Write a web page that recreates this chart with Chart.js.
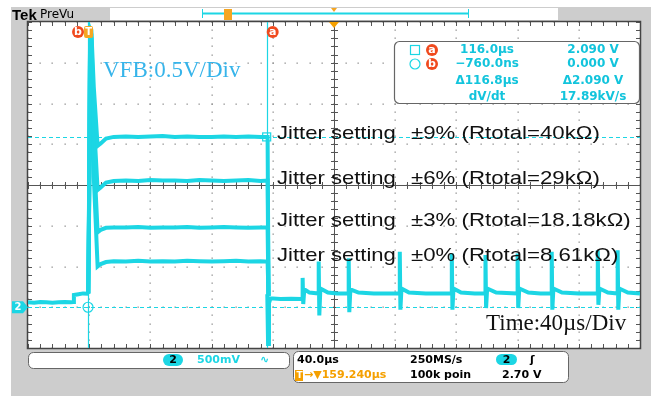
<!DOCTYPE html>
<html><head><meta charset="utf-8">
<script src="https://cdn.jsdelivr.net/npm/chart.js@4/dist/chart.umd.min.js"></script>
<style>html,body{margin:0;padding:0;background:#fff}canvas{display:block}</style>
</head><body>
<canvas id="c" width="651" height="396"></canvas>
<script>
// ---- data (time in µs, voltage in V) ----
const xTicks = [-40, 0, 40, 80, 120, 160, 200, 240, 280, 320, 360];
const yTicks = [-0.5, 0, 0.5, 1, 1.5, 2, 2.5, 3, 3.5];
const preTime = [-40, -36, -32, -28, -24, -20, -16, -12, -10.4, -10, -7, -4, -1, -0.6];
const preVolt = [0.06, 0.055, 0.065, 0.06, 0.055, 0.06, 0.065, 0.06, 0.065, 0.15, 0.16, 0.17, 0.165, 0.17];
const pulseTime = [-0.6, 0, 0.6, 1.4, 3, 5.5, 7.5, 11, 16, 24, 32, 40, 48, 56, 64, 72, 80, 88, 96, 104, 112, 116.6, 117.2];
const jitter9 = [0.17, 1.6, 3.42, 3.40, 2.7, 1.98, 2.01, 2.07, 2.09, 2.095, 2.09, 2.095, 2.10, 2.09, 2.095, 2.09, 2.09, 2.095, 2.09, 2.095, 2.09, 2.09, 0.14];
const jitter6 = [0.17, 1.5, 3.40, 3.35, 2.3, 1.44, 1.47, 1.53, 1.55, 1.555, 1.55, 1.56, 1.555, 1.555, 1.55, 1.56, 1.555, 1.55, 1.555, 1.56, 1.55, 1.555, 0.14];
const jitter3 = [0.17, 1.4, 3.36, 3.30, 1.9, 0.92, 0.95, 0.975, 0.98, 0.98, 0.985, 0.975, 0.98, 0.98, 0.985, 0.975, 0.98, 0.985, 0.98, 0.975, 0.98, 0.98, 0.14];
const jitter0 = [0.17, 1.3, 3.30, 3.20, 1.6, 0.50, 0.53, 0.555, 0.565, 0.56, 0.57, 0.56, 0.565, 0.56, 0.57, 0.565, 0.56, 0.565, 0.57, 0.56, 0.565, 0.56, 0.14];
const tailTime = [116.4, 116.9, 117.5, 118.5, 125, 132, 139.2, 139.5, 139.9, 140.6, 144, 149.7, 150.0, 150.4, 151.1, 156, 162, 169.3, 169.6, 170.0, 170.7, 176, 186, 196, 202.7, 203.0, 203.4, 204.1, 209, 220, 236.7, 237.0, 237.4, 238.1, 243, 252, 258.7, 259.0, 259.4, 260.1, 266, 279.7, 280.0, 280.4, 281.1, 287, 295, 302.0, 302.3, 302.7, 303.4, 309, 320, 332.1, 332.4, 332.8, 333.5, 339, 345.1, 345.4, 345.8, 346.5, 352, 360];
const tailVolt = [0.16, -0.45, 0.05, 0.11, 0.10, 0.105, 0.10, 0.36, 0.04, 0.22, 0.18, 0.17, 0.56, -0.10, 0.23, 0.18, 0.17, 0.17, 0.60, -0.06, 0.22, 0.18, 0.17, 0.17, 0.17, 0.68, -0.03, 0.23, 0.18, 0.17, 0.17, 0.66, -0.03, 0.23, 0.18, 0.17, 0.17, 0.64, -0.01, 0.23, 0.18, 0.17, 0.66, -0.01, 0.23, 0.18, 0.17, 0.17, 0.68, -0.03, 0.23, 0.18, 0.17, 0.17, 0.70, 0.03, 0.23, 0.18, 0.17, 0.70, -0.03, 0.23, 0.18, 0.17];
const cursorTime = [116.0, -0.76];   // a, b
const cursorVolt = [2.090, 0.000];   // a, b
const jitterLabels = ["±9% (Rtotal=40kΩ)", "±6% (Rtotal=29kΩ)", "±3% (Rtotal=18.18kΩ)", "±0% (Rtotal=8.61kΩ)"];
const readout = [["116.0µs", "2.090 V"], ["−760.0ns", "0.000 V"], ["Δ116.8µs", "Δ2.090 V"], ["dV/dt", "17.89kV/s"]];

const CY = '#1cd6e4';
const pts = (t, v) => t.map((x, i) => ({x: x, y: v[i]}));
const ds = (label, t, v) => ({label, data: pts(t, v), borderColor: CY, borderWidth: 4, pointRadius: 0, tension: 0, fill: false});

function rr(ctx, x, y, w, h, r) {
  ctx.beginPath();
  ctx.moveTo(x + r, y); ctx.lineTo(x + w - r, y); ctx.arcTo(x + w, y, x + w, y + r, r);
  ctx.lineTo(x + w, y + h - r); ctx.arcTo(x + w, y + h, x + w - r, y + h, r);
  ctx.lineTo(x + r, y + h); ctx.arcTo(x, y + h, x, y + h - r, r);
  ctx.lineTo(x, y + r); ctx.arcTo(x, y, x + r, y, r); ctx.closePath();
}
function badge(ctx, x, y, txt, col) {
  ctx.fillStyle = col; ctx.beginPath(); ctx.arc(x, y, 6, 0, Math.PI * 2); ctx.fill();
  ctx.fillStyle = '#fff'; ctx.font = 'bold 11px "DejaVu Sans"'; ctx.textAlign = 'center'; ctx.textBaseline = 'middle';
  ctx.fillText(txt, x, y + 0.5);
}

const scopePlugin = {
  id: 'scope',
  beforeDraw(chart) {
    const ctx = chart.ctx, a = chart.chartArea;
    ctx.save();
    ctx.fillStyle = '#fff'; ctx.fillRect(0, 0, 651, 396);
    ctx.fillStyle = '#cdcdcd'; ctx.fillRect(11, 7, 640, 389);
    ctx.fillStyle = '#fff'; ctx.fillRect(a.left, a.top, a.right - a.left, a.bottom - a.top);
    // top bar
    ctx.fillStyle = '#fff'; ctx.fillRect(110, 8, 448, 12);
    ctx.fillStyle = '#000'; ctx.textBaseline = 'alphabetic'; ctx.textAlign = 'left';
    ctx.font = 'bold 15px "Liberation Sans"'; ctx.fillText('Tek', 12, 20);
    ctx.font = '12px "DejaVu Sans"'; ctx.fillText('PreVu', 40, 18);
    ctx.strokeStyle = CY; ctx.lineWidth = 2;
    ctx.beginPath(); ctx.moveTo(202, 13.5); ctx.lineTo(469, 13.5); ctx.stroke();
    ctx.lineWidth = 1;
    ctx.beginPath(); ctx.moveTo(202.5, 9); ctx.lineTo(202.5, 18); ctx.moveTo(468.5, 9); ctx.lineTo(468.5, 18); ctx.stroke();
    ctx.fillStyle = '#f5a623'; ctx.fillRect(224, 9, 8, 11);
    ctx.beginPath(); ctx.moveTo(331, 8); ctx.lineTo(337, 8); ctx.lineTo(334, 12); ctx.fill();
    // bottom boxes
    ctx.fillStyle = '#fff'; ctx.strokeStyle = '#666'; ctx.lineWidth = 1;
    rr(ctx, 28.5, 352.5, 261, 16, 5); ctx.fill(); ctx.stroke();
    rr(ctx, 293.5, 351.5, 275, 31, 5); ctx.fill(); ctx.stroke();
    ctx.fillStyle = CY; rr(ctx, 163, 354, 20, 12, 6); ctx.fill();
    rr(ctx, 496, 354, 21, 11, 5.5); ctx.fill();
    ctx.font = 'bold 11px "DejaVu Sans"'; ctx.textBaseline = 'middle';
    ctx.fillStyle = '#000'; ctx.textAlign = 'center'; ctx.fillText('2', 173, 360); ctx.fillText('2', 506.5, 360);
    ctx.textAlign = 'left';
    ctx.fillStyle = CY; ctx.fillText('500mV', 197, 360.5); ctx.fillText('∿', 260, 360.5);
    ctx.fillStyle = '#000';
    ctx.fillText('40.0µs', 297, 360.5); ctx.fillText('250MS/s', 410, 360.5); ctx.fillText('100k poin', 410, 375.5);
    ctx.fillText('ʃ', 530, 360.5); ctx.fillText('2.70 V', 502, 375.5);
    ctx.fillStyle = '#f5a000'; ctx.fillRect(295, 370, 8, 11);
    ctx.fillText('→▼159.240µs', 304, 375.5);
    ctx.fillStyle = '#fff'; ctx.font = 'bold 9px "DejaVu Sans"'; ctx.fillText('T', 296.5, 376);
    ctx.restore();
  },
  beforeDatasetsDraw(chart) {
    const ctx = chart.ctx, a = chart.chartArea, xs = chart.scales.x, ys = chart.scales.y;
    const dx = (xs.getPixelForValue(xTicks[1]) - xs.getPixelForValue(xTicks[0])) / 5;
    const dy = (ys.getPixelForValue(yTicks[0]) - ys.getPixelForValue(yTicks[1])) / 5;
    ctx.save();
    ctx.fillStyle = '#8e8e8e';
    xTicks.forEach(t => { const x = xs.getPixelForValue(t);
      for (let y = a.top; y <= a.bottom; y += dy) ctx.fillRect(Math.round(x) - 0.5, Math.round(y) - 0.5, 1.3, 1.3); });
    yTicks.forEach(v => { const y = ys.getPixelForValue(v);
      for (let x = a.left; x <= a.right; x += dx) ctx.fillRect(Math.round(x) - 0.5, Math.round(y) - 0.5, 1.3, 1.3); });
    // center lines & border with ticks
    const cx = xs.getPixelForValue(160), cy = ys.getPixelForValue(1.5);
    ctx.strokeStyle = '#555'; ctx.lineWidth = 1;
    ctx.beginPath();
    ctx.moveTo(Math.round(cx) + 0.5, a.top); ctx.lineTo(Math.round(cx) + 0.5, a.bottom);
    ctx.moveTo(a.left, Math.round(cy) + 0.5); ctx.lineTo(a.right, Math.round(cy) + 0.5);
    for (let x = a.left; x <= a.right + 0.5; x += dx) { const px = Math.round(x) + 0.5;
      ctx.moveTo(px, cy - 3); ctx.lineTo(px, cy + 4); ctx.moveTo(px, a.top); ctx.lineTo(px, a.top + 4); ctx.moveTo(px, a.bottom); ctx.lineTo(px, a.bottom - 4); }
    for (let y = a.top; y <= a.bottom + 0.5; y += dy) { const py = Math.round(y) + 0.5;
      ctx.moveTo(cx - 3, py); ctx.lineTo(cx + 4, py); ctx.moveTo(a.left, py); ctx.lineTo(a.left + 4, py); ctx.moveTo(a.right, py); ctx.lineTo(a.right - 4, py); }
    ctx.stroke();
    ctx.strokeStyle = '#444'; ctx.lineWidth = 1.5; ctx.strokeRect(a.left - 0.5, a.top - 0.5, a.right - a.left + 1, a.bottom - a.top + 1);
    // cursors
    ctx.strokeStyle = CY; ctx.lineWidth = 1.2;
    cursorTime.forEach(t => { const x = Math.round(xs.getPixelForValue(t)) + 0.5;
      ctx.beginPath(); ctx.moveTo(x, a.top); ctx.lineTo(x, a.bottom); ctx.stroke(); });
    ctx.setLineDash([4, 3]);
    cursorVolt.forEach(v => { const y = Math.round(ys.getPixelForValue(v)) + 0.5;
      ctx.beginPath(); ctx.moveTo(a.left, y); ctx.lineTo(a.right, y); ctx.stroke(); });
    ctx.restore();
  },
  afterDatasetsDraw(chart) {
    const ctx = chart.ctx, a = chart.chartArea, xs = chart.scales.x, ys = chart.scales.y;
    ctx.save();
    // cursor markers
    const xa = xs.getPixelForValue(cursorTime[0]), ya = ys.getPixelForValue(cursorVolt[0]);
    const xb = xs.getPixelForValue(cursorTime[1]), yb = ys.getPixelForValue(cursorVolt[1]);
    ctx.strokeStyle = CY; ctx.lineWidth = 1.2;
    ctx.strokeRect(xa - 4, ya - 4, 8, 8);
    ctx.beginPath(); ctx.arc(xb, yb, 5, 0, Math.PI * 2); ctx.stroke();
    badge(ctx, xa + 6, a.top + 10, 'a', '#f04a1e');
    badge(ctx, xb - 10, a.top + 10, 'b', '#f04a1e');
    ctx.fillStyle = '#f5a623'; rr(ctx, xb - 4, a.top + 4, 9, 12, 2); ctx.fill();
    ctx.fillStyle = '#fff'; ctx.font = 'bold 10px "DejaVu Sans"'; ctx.textAlign = 'center'; ctx.textBaseline = 'middle';
    ctx.fillText('T', xb + 0.5, a.top + 10.5);
    // trigger position marker
    const cx = xs.getPixelForValue(160);
    ctx.fillStyle = '#f5a000'; ctx.beginPath(); ctx.moveTo(cx - 5, a.top); ctx.lineTo(cx + 5, a.top); ctx.lineTo(cx, a.top + 6); ctx.fill();
    // ground marker
    const yg = ys.getPixelForValue(0);
    ctx.fillStyle = CY; ctx.beginPath(); ctx.moveTo(12, yg - 6); ctx.lineTo(23, yg - 6); ctx.lineTo(28, yg); ctx.lineTo(23, yg + 6); ctx.lineTo(12, yg + 6); ctx.closePath(); ctx.fill();
    ctx.fillStyle = '#fff'; ctx.font = 'bold 10px "DejaVu Sans"'; ctx.fillText('2', 18, yg + 0.5);
    // readout box
    ctx.fillStyle = '#fff'; ctx.strokeStyle = '#666'; ctx.lineWidth = 1.2;
    rr(ctx, 394.5, 41.5, 245, 62, 5); ctx.fill(); ctx.stroke();
    ctx.strokeStyle = CY; ctx.lineWidth = 1.2; ctx.strokeRect(410.5, 45.5, 9, 9);
    ctx.beginPath(); ctx.arc(415, 64, 5, 0, Math.PI * 2); ctx.stroke();
    badge(ctx, 432, 50, 'a', '#f04a1e'); badge(ctx, 432, 64, 'b', '#f04a1e');
    ctx.fillStyle = '#12c4dc'; ctx.font = 'bold 12px "DejaVu Sans"'; ctx.textAlign = 'center'; ctx.textBaseline = 'middle';
    const rowsY = [50, 64, 81, 97];
    readout.forEach((r, i) => { ctx.fillText(r[0], 487, rowsY[i]); ctx.fillText(r[1], 593, rowsY[i]); });
    // annotations
    ctx.textAlign = 'left'; ctx.textBaseline = 'alphabetic';
    ctx.fillStyle = '#36b4ea'; ctx.font = '23px "Liberation Serif"';
    ctx.fillText('VFB:0.5V/Div', 103, 77);
    ctx.fillStyle = '#111'; ctx.fillText('Time:40µs/Div', 486, 330);
    const jy = [139, 184, 226, 261];
    ctx.font = '19px "Liberation Sans"';
    jy.forEach((y, i) => {
      ctx.save(); ctx.translate(277, y); ctx.scale(1.16, 1); ctx.fillText('Jitter setting', 0, 0); ctx.restore();
      ctx.save(); ctx.translate(411, y); ctx.scale(1.17, 1); ctx.fillText(jitterLabels[i], 0, 0); ctx.restore();
    });
    ctx.restore();
  }
};

new Chart(document.getElementById('c'), {
  type: 'line',
  data: { datasets: [
    ds('pre-trigger', preTime, preVolt),
    ds('Jitter ±9%', pulseTime, jitter9),
    ds('Jitter ±6%', pulseTime, jitter6),
    ds('Jitter ±3%', pulseTime, jitter3),
    ds('Jitter ±0%', pulseTime, jitter0),
    ds('after turn-off', tailTime, tailVolt)
  ]},
  options: {
    responsive: false, devicePixelRatio: 1, animation: false,
    layout: { padding: { left: 28, top: 22, right: 11, bottom: 48 } },
    plugins: { legend: { display: false }, tooltip: { enabled: false } },
    scales: {
      x: { type: 'linear', min: -40, max: 360, display: false },
      y: { type: 'linear', min: -0.5, max: 3.5, display: false }
    }
  },
  plugins: [scopePlugin]
});
</script>
</body></html>
